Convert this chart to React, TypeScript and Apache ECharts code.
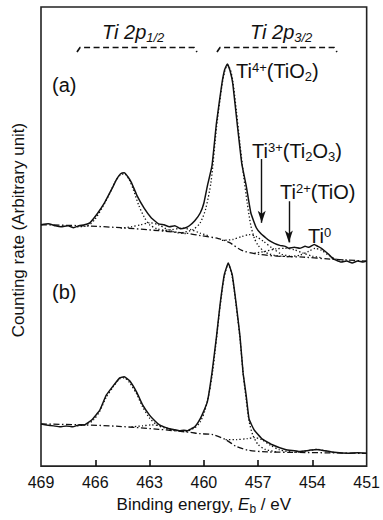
import React, { useEffect, useRef } from "react";
import * as echarts from "echarts";

// ---- axis ----
const xTickLabels = [469, 466, 463, 460, 457, 454, 451];
const xTickMarks = [466, 463, 460, 457, 454];
const yAxisTitle = "Counting rate (Arbitrary unit)";

// ---- spectrum (a): measured, background, fitted components [eV, counts] ----
const specA = [
  [469.0, 246], [468.6, 247], [468.2, 245], [467.9, 244], [467.5, 245], [467.2, 243], [466.9, 245],
  [466.6, 246], [466.3, 248], [465.9, 257], [465.5, 268], [465.1, 282], [464.8, 293], [464.6, 298],
  [464.4, 299], [464.2, 295], [464.0, 289], [463.7, 276], [463.3, 263], [462.9, 253], [462.5, 247],
  [462.2, 246], [461.9, 244], [461.6, 245], [461.3, 242], [461.0, 243], [460.8, 245], [460.5, 250],
  [460.2, 258], [460.0, 268], [459.8, 286], [459.55, 306], [459.3, 350], [459.0, 390], [458.85, 404],
  [458.7, 410], [458.55, 403], [458.4, 390], [458.15, 348], [457.9, 308], [457.65, 285], [457.4, 258],
  [457.1, 243], [456.85, 237], [456.6, 233], [456.4, 230], [456.1, 227], [455.8, 225], [455.5, 224],
  [455.3, 222], [455.0, 223], [454.7, 222], [454.4, 224], [454.2, 223], [453.9, 226], [453.7, 224],
  [453.5, 222], [453.3, 219], [453.1, 216], [452.9, 212], [452.7, 210], [452.4, 208], [452.1, 209],
  [451.8, 207], [451.5, 209], [451.2, 208], [451.0, 209],
];
const bgA = [
  [469, 246], [466.7, 245], [464.6, 243], [462.5, 240], [460.8, 237], [460.2, 235], [459.2, 232],
  [458.6, 228], [457.9, 220], [457.0, 216], [455.9, 214], [454.5, 213], [453.0, 211], [452.0, 210], [451.0, 209],
];
const compA_Ti4_32 = [
  [461.2, 238], [460.6, 241], [460.2, 248], [459.9, 262], [459.6, 290], [459.3, 345], [459.0, 388],
  [458.85, 402], [458.7, 409], [458.55, 405], [458.4, 393], [458.2, 362], [458.0, 328], [457.8, 296],
  [457.6, 268], [457.4, 245], [457.2, 232], [457.0, 225], [456.6, 218], [456.0, 214.5], [455.3, 213.5],
];
const compA_Ti4_12 = [
  [467.0, 244], [466.4, 245], [466.0, 252], [465.6, 264], [465.2, 278], [464.9, 290], [464.6, 297],
  [464.4, 298], [464.15, 293], [463.9, 282], [463.6, 266], [463.3, 254], [463.0, 246], [462.6, 242],
  [462.1, 240], [461.5, 238.5],
];
const compA_Ti3_12 = [
  [464.6, 242.5], [464.0, 244], [463.5, 246], [463.0, 248], [462.5, 246], [462.0, 241], [461.5, 238], [461.0, 237],
];
const compA_Ti2_12 = [
  [462.3, 240], [461.8, 241], [461.2, 242.5], [460.7, 241], [460.2, 237.5], [459.7, 234.5],
];
const compA_Ti3_32 = [
  [459.0, 230], [458.4, 231], [457.9, 234], [457.5, 236], [457.1, 234], [456.7, 229], [456.2, 222],
  [455.7, 216], [455.2, 214],
];
const compA_Ti2_32 = [
  [457.2, 217], [456.6, 219], [456.0, 221.5], [455.5, 222], [455.0, 220.5], [454.5, 217], [454.0, 214], [453.5, 212.5],
];
const compA_Ti0 = [
  [455.2, 213.5], [454.7, 215], [454.2, 219], [453.85, 222], [453.5, 220], [453.1, 215], [452.7, 211], [452.2, 210],
];

// ---- spectrum (b) ----
const specB = [
  [469.0, 43], [468.7, 42], [468.3, 41], [467.95, 40], [467.6, 41], [467.24, 40], [466.9, 42],
  [466.6, 42], [466.2, 47], [465.75, 57], [465.4, 72], [465.0, 82], [464.65, 90], [464.4, 91],
  [464.1, 87], [463.7, 75], [463.4, 63], [463.0, 52], [462.7, 46], [462.45, 42], [462.2, 40],
  [461.9, 38], [461.6, 37], [461.35, 36], [461.1, 36.5], [460.9, 36], [460.7, 38], [460.5, 40],
  [460.3, 45], [460.1, 52], [459.8, 66], [459.55, 95], [459.3, 132], [459.1, 165], [458.87, 195],
  [458.65, 207], [458.43, 195], [458.21, 165], [458.0, 132], [457.83, 95], [457.66, 72], [457.5, 48],
  [457.22, 37], [456.8, 28], [456.25, 22], [455.5, 17], [454.75, 15], [454.2, 16], [453.8, 17],
  [453.4, 16], [452.8, 14], [452.0, 13], [451.5, 13.5], [451.0, 13],
];
const bgB = [
  [469, 43], [466.6, 42], [464.7, 40.5], [462.5, 37.5], [460.8, 34.5], [460.2, 33], [459.5, 32],
  [458.8, 27], [458.2, 20], [457.5, 16], [456.5, 14.5], [455, 14], [453, 13.5], [451, 13],
];
const compB_Ti4_32 = [
  [461.0, 35], [460.5, 39], [460.2, 45], [459.95, 56], [459.7, 75], [459.5, 98], [459.3, 130],
  [459.1, 163], [458.87, 193], [458.65, 206], [458.43, 193], [458.21, 163], [458.0, 130], [457.83, 95],
  [457.66, 68], [457.5, 46], [457.3, 32], [457.0, 22], [456.6, 17], [456.0, 14.5],
];
const compB_Ti4_12 = [
  [467.0, 41], [466.5, 42.5], [466.1, 47], [465.75, 56], [465.4, 70], [465.0, 81], [464.65, 89],
  [464.4, 90], [464.1, 85], [463.7, 73], [463.4, 61], [463.0, 49], [462.6, 42], [462.1, 38.5], [461.5, 36],
];
const compB_Ti3_32 = [
  [458.8, 27], [458.2, 27], [457.6, 28], [457.2, 29], [456.8, 27], [456.3, 21], [455.8, 16.5], [455.2, 14.5],
];
const compB_Ti3_12 = [
  [464.0, 40], [463.4, 41], [462.9, 42], [462.4, 41], [461.9, 38], [461.4, 35.5],
];
const compB_Ti0 = [
  [455.0, 14], [454.5, 15], [454.0, 16.5], [453.7, 17], [453.3, 15.5], [452.8, 14],
];

// ---- arrows (eV, from count, to count) ----
const arrowTi3 = [456.8, 313, 248];
const arrowTi2 = [455.3, 270, 228];

const FONT = "'Liberation Sans', Arial, Helvetica, sans-serif";
const INK = "#111";

function solid(data: number[][]) {
  return {
    type: "line", data, symbol: "none", showSymbol: false, smooth: 0.12, silent: true, z: 4,
    lineStyle: { color: INK, width: 1.5, type: "solid" },
  };
}
function dotted(data: number[][]) {
  return {
    type: "line", data, symbol: "none", showSymbol: false, smooth: 0.25, silent: true, z: 3,
    lineStyle: { color: INK, width: 1.3, type: [1.3, 2.2] },
  };
}
function dashDot(data: number[][]) {
  return {
    type: "line", data, symbol: "none", showSymbol: false, smooth: 0.3, silent: true, z: 3,
    lineStyle: { color: INK, width: 1.3, type: [6, 2.5, 1.5, 2.5] },
  };
}

const richMain = {
  m: { fontSize: 20, fontFamily: FONT, color: INK, verticalAlign: "top", lineHeight: 22 },
  sup: { fontSize: 13, fontFamily: FONT, color: INK, verticalAlign: "top", lineHeight: 14 },
  sub: { fontSize: 13, fontFamily: FONT, color: INK, verticalAlign: "bottom", lineHeight: 14, padding: [9, 0, 0, 0] },
  i: { fontSize: 20, fontFamily: FONT, fontStyle: "italic", color: INK, verticalAlign: "top", lineHeight: 22 },
  is: { fontSize: 13, fontFamily: FONT, fontStyle: "italic", color: INK, verticalAlign: "bottom", lineHeight: 14, padding: [10, 0, 0, 0] },
};

function label(text: string, x: number, y: number) {
  return {
    type: "text", x, y, silent: true, z: 10,
    style: { text, rich: richMain, verticalAlign: "middle", align: "left", fill: INK },
  };
}

export default function App() {
  const ref = useRef<HTMLDivElement>(null);
  useEffect(() => {
    const chart = echarts.init(ref.current!, null, { renderer: "svg" });
    const arrowLine = (a: number[]) => ({
      silent: true, symbol: ["none", "arrow"], symbolSize: [6, 12], animation: false,
      label: { show: false },
      lineStyle: { color: INK, width: 1.4, type: "solid" },
      data: [[{ coord: [a[0], a[1]] }, { coord: [a[0], a[2]] }]],
    });
    const bgAS = dashDot(bgA) as any;
    bgAS.markLine = arrowLine(arrowTi3);
    const c2 = dotted(compA_Ti3_12) as any;
    c2.markLine = arrowLine(arrowTi2);
    chart.setOption({
      animation: false,
      backgroundColor: "#fff",
      textStyle: { fontFamily: FONT },
      grid: { left: 41, right: 15, top: 7, bottom: 45, show: true, borderColor: "#222", borderWidth: 1.6, backgroundColor: "transparent" },
      xAxis: {
        type: "value", inverse: true, min: 451, max: 469,
        axisLine: { show: false },
        splitLine: { show: false },
        axisTick: { show: true, inside: true, length: 6, customValues: xTickMarks, lineStyle: { color: INK, width: 1.6 } },
        axisLabel: { show: true, customValues: xTickLabels, margin: 8, fontSize: 16, color: INK, fontFamily: FONT },
        name: "{n|Binding energy, }{e|E}{b|b}{n| / eV}",
        nameLocation: "middle", nameGap: 29,
        nameTextStyle: {
          rich: {
            n: { fontSize: 17, fontFamily: FONT, color: INK, verticalAlign: "top", lineHeight: 19 },
            e: { fontSize: 17, fontFamily: FONT, fontStyle: "italic", color: INK, verticalAlign: "top", lineHeight: 19 },
            b: { fontSize: 12, fontFamily: FONT, color: INK, verticalAlign: "bottom", lineHeight: 13, padding: [8, 0, 0, 0] },
          },
        },
      },
      yAxis: {
        type: "value", min: 0, max: 468,
        axisLine: { show: false }, axisTick: { show: false }, axisLabel: { show: false }, splitLine: { show: false },
      },
      series: [
        solid(specA), bgAS,
        dotted(compA_Ti4_32), dotted(compA_Ti4_12), c2, dotted(compA_Ti2_12),
        dotted(compA_Ti3_32), dotted(compA_Ti2_32), dotted(compA_Ti0),
        solid(specB), dashDot(bgB),
        dotted(compB_Ti4_32), dotted(compB_Ti4_12), dotted(compB_Ti3_32), dotted(compB_Ti3_12), dotted(compB_Ti0),
      ],
      graphic: [
        {
          type: "text", x: 18, y: 230, rotation: Math.PI / 2, silent: true, z: 10,
          style: { text: yAxisTitle, fontSize: 17, fontFamily: FONT, fill: INK, align: "center", verticalAlign: "middle" },
        },
        label("{i|Ti 2p}{is|1/2}", 102, 33),
        label("{i|Ti 2p}{is|3/2}", 250, 33),
        { type: "polyline", silent: true, shape: { points: [[77, 52], [80, 47.5], [194, 47.5], [197, 52]] }, style: { stroke: INK, lineWidth: 1.7, lineDash: [6, 3.5], fill: null } },
        { type: "polyline", silent: true, shape: { points: [[217, 52], [220, 47.5], [334, 47.5], [337, 52]] }, style: { stroke: INK, lineWidth: 1.7, lineDash: [6, 3.5], fill: null } },
        label("{m|(a)}", 52, 86),
        label("{m|(b)}", 52, 293),
        label("{m|Ti}{sup|4+}{m|(TiO}{sub|2}{m|)}", 236, 72),
        label("{m|Ti}{sup|3+}{m|(Ti}{sub|2}{m|O}{sub|3}{m|)}", 252, 152),
        label("{m|Ti}{sup|2+}{m|(TiO)}", 280, 193),
        label("{m|Ti}{sup|0}", 308, 237),
      ],
    });
    return () => chart.dispose();
  }, []);
  return (
    <div
      ref={ref}
      style={{ position: "absolute", left: 0, top: 0, width: 383, height: 520, background: "#fff" }}
    />
  );
}
